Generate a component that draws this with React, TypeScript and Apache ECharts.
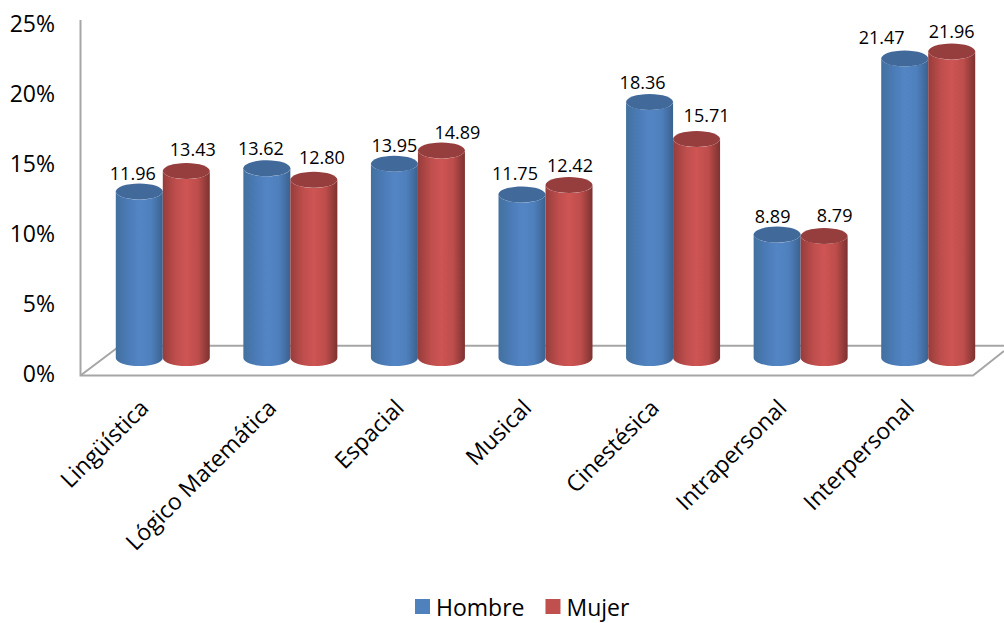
import React, { useEffect, useRef } from "react";
import * as echarts from "echarts";

const categories = ["Lingüística", "Lógico Matemática", "Espacial", "Musical", "Cinestésica", "Intrapersonal", "Interpersonal"];
const hombre = [11.96, 13.62, 13.95, 11.75, 18.36, 8.89, 21.47];
const mujer = [13.43, 12.8, 14.89, 12.42, 15.71, 8.79, 21.96];
const yTicks = { min: 0, max: 25, interval: 5 };

// Hand placement of the value labels relative to each cylinder's cap.
const hombreLabelShift = [[-6.5, -18], [-6, -19], [0, -18], [-7, -21], [-7, -19], [-4.5, -18], [-23, -20]];
const mujerLabelShift = [[6.5, -21], [8, -22], [16, -17.5], [1, -19], [10, -23], [10.5, -20], [0, -20]];

const FONT = '"Open Sans", sans-serif';
const W = 1004;
const H = 623;
const GRID = { left: 80, top: 23, width: 893, height: 350 };
const DEPTH_X = 19; // projected shift of the bars into the floor
const DEPTH_Y = 15;
const BAR_W = 47;
const RY = 8;

const palette = {
  blue: { legend: "#4f81bd", cap: "#416a9b", stops: ["#42709f", "#4c7cb8", "#5385c5", "#4f80bd", "#3a628f"] },
  red: { legend: "#c0504d", cap: "#963e3d", stops: ["#963d3c", "#bf4e4d", "#ce5553", "#bd4d4b", "#7c3231"] },
};

function cylinder(side: -1 | 1, colors: typeof palette.blue, shifts: number[][]) {
  return (params: any, api: any) => {
    const i = api.value(0);
    const v = api.value(1);
    const [cx0, y0] = api.coord([i, 0]);
    const [, yv] = api.coord([i, v]);
    const cx = cx0 + DEPTH_X + (side * BAR_W) / 2;
    const rx = BAR_W / 2;
    const yb = y0 - DEPTH_Y;
    const yt = yv - DEPTH_Y + 1;
    const x0 = cx - rx;
    const x1 = cx + rx;
    const d = `M${x0} ${yt}L${x0} ${yb}A${rx} ${RY} 0 0 0 ${x1} ${yb}L${x1} ${yt}A${rx} ${RY} 0 0 1 ${x0} ${yt}Z`;
    const offsets = [0, 0.28, 0.5, 0.75, 1];
    const [dx, dy] = shifts[params.dataIndex];
    return {
      type: "group",
      children: [
        {
          type: "path",
          shape: { pathData: d },
          style: {
            fill: {
              type: "linear", x: 0, y: 0, x2: 1, y2: 0,
              colorStops: colors.stops.map((color, k) => ({ offset: offsets[k], color })),
            },
          },
        },
        { type: "ellipse", shape: { cx, cy: yt, rx, ry: RY }, style: { fill: colors.cap } },
        {
          type: "text",
          style: {
            text: Number(v).toFixed(2),
            x: cx + dx,
            y: yv - DEPTH_Y + dy,
            align: "center",
            verticalAlign: "middle",
            font: `18px ${FONT}`,
            fill: "#000",
          },
        },
      ],
    };
  };
}

export default function App() {
  const ref = useRef<HTMLDivElement>(null);
  useEffect(() => {
    const chart = echarts.init(ref.current!, undefined, { renderer: "svg" });
    const wall = { stroke: "#a6a6a6", lineWidth: 2, fill: "none" };
    chart.setOption({
      animation: false,
      backgroundColor: "#fff",
      grid: { ...GRID, containLabel: false },
      graphic: [
        { type: "polyline", z: 0, shape: { points: [[80.5, 20], [80.5, 375.5], [973, 375.5], [1004, 351]] }, style: wall },
        { type: "polyline", z: 0, shape: { points: [[80.5, 375.5], [120, 345.7], [1004, 345.7]] }, style: wall },
      ],
      xAxis: {
        type: "category",
        data: categories,
        axisLine: { show: false },
        axisTick: { show: false },
        axisLabel: { rotate: 45, interval: 0, margin: 30, fontFamily: FONT, fontSize: 23, color: "#000" },
      },
      yAxis: {
        type: "value",
        ...yTicks,
        axisLine: { show: false },
        axisTick: { show: false },
        splitLine: { show: false },
        axisLabel: { formatter: "{value}%", margin: 25, fontFamily: FONT, fontSize: 23, color: "#000" },
      },
      legend: {
        left: 415,
        top: 595,
        padding: 0,
        icon: "rect",
        itemWidth: 15,
        itemHeight: 15,
        itemGap: 21,
        textStyle: { fontFamily: FONT, fontSize: 23, color: "#000", padding: [0, 0, 0, 1] },
        data: ["Hombre", "Mujer"],
      },
      series: [
        {
          type: "custom",
          name: "Hombre",
          itemStyle: { color: palette.blue.legend },
          renderItem: cylinder(-1, palette.blue, hombreLabelShift),
          data: hombre.map((v, i) => [i, v]),
          z: 2,
        },
        {
          type: "custom",
          name: "Mujer",
          itemStyle: { color: palette.red.legend },
          renderItem: cylinder(1, palette.red, mujerLabelShift),
          data: mujer.map((v, i) => [i, v]),
          z: 3,
        },
      ],
    });
    return () => chart.dispose();
  }, []);
  return <div ref={ref} style={{ position: "absolute", left: 0, top: 0, width: W, height: H }} />;
}
